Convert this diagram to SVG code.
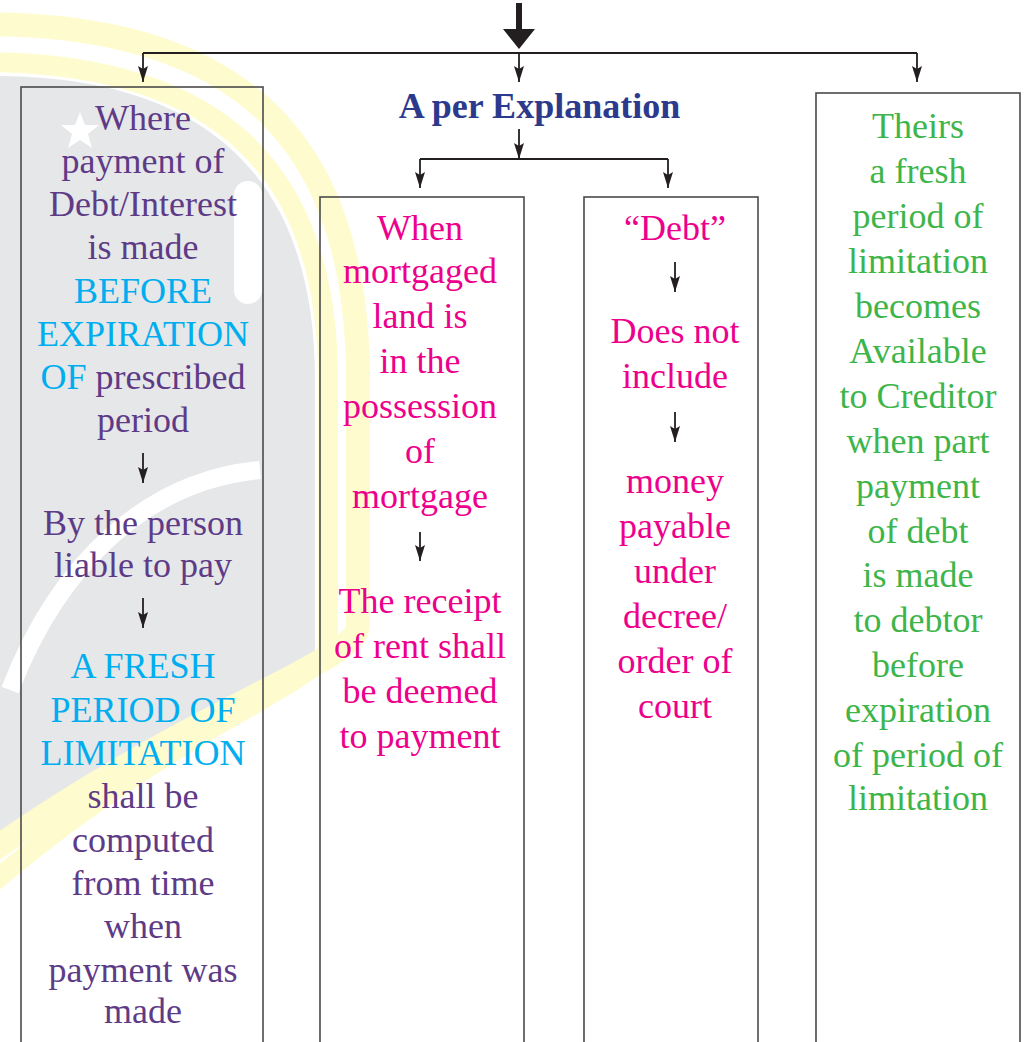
<svg xmlns="http://www.w3.org/2000/svg" width="1026" height="1042" viewBox="0 0 1026 1042">
<defs>
<style>
.t{font-family:"Liberation Serif","Times New Roman",serif;font-size:36px;text-anchor:middle}
.pu{fill:#5e3b87}
.cy{fill:#00aeef}
.mg{fill:#ec008c}
.gr{fill:#3db54a}
.ti{font-family:"Liberation Serif","Times New Roman",serif;font-size:36px;font-weight:bold;fill:#2b3a8d;text-anchor:middle}
.box{fill:none;stroke:#4a4a4a;stroke-width:1.6}
.cn{fill:none;stroke:#231f20;stroke-width:1.8}
</style>
<marker id="ah" markerUnits="userSpaceOnUse" viewBox="0 0 16 10" markerWidth="16" markerHeight="10" refX="16" refY="5" orient="auto">
<path d="M0,0 L16,5 L0,10 L3,5 Z" fill="#231f20"/>
</marker>
</defs>
<rect width="1026" height="1042" fill="#ffffff"/>
<g id="watermark">
<path d="M0,76 C210,78 315,180 315,380 L315,652 C250,690 120,745 0,835 Z" fill="#e6e7e8"/>
<path d="M-10,24 C250,26 358,150 358,380 L358,625 C358,662 200,705 -10,852" fill="none" stroke="#fefccf" stroke-width="24"/>
<path d="M-10,62 C220,65 328,170 328,380 L328,645 C328,682 180,722 -10,885" fill="none" stroke="#fefccf" stroke-width="20"/>
<polygon points="80,112 85,125 99,125 88,134 92,148 80,140 68,148 72,134 61,125 75,125" fill="#ffffff"/>
<path d="M248,195 L248,290" fill="none" stroke="#ffffff" stroke-width="28" stroke-linecap="round"/>
<path d="M10,690 C60,560 150,480 260,470" fill="none" stroke="#ffffff" stroke-width="18"/>
</g>
<g id="connectors">
<path d="M516,3 L522,3 L522,29 L535,29 L519,49 L503,29 L516,29 Z" fill="#231f20"/>
<path class="cn" d="M143,53 L917,53"/>
<path class="cn" d="M143,53 L143,82" marker-end="url(#ah)"/>
<path class="cn" d="M519,53 L519,82" marker-end="url(#ah)"/>
<path class="cn" d="M917,53 L917,82" marker-end="url(#ah)"/>
<path class="cn" d="M519,129 L519,159" marker-end="url(#ah)"/>
<path class="cn" d="M420,159 L668,159"/>
<path class="cn" d="M420,159 L420,188" marker-end="url(#ah)"/>
<path class="cn" d="M668,159 L668,188" marker-end="url(#ah)"/>
<path class="cn" d="M143,453 L143,483" marker-end="url(#ah)"/>
<path class="cn" d="M143,598 L143,628" marker-end="url(#ah)"/>
<path class="cn" d="M420,532 L420,561" marker-end="url(#ah)"/>
<path class="cn" d="M675,262 L675,292" marker-end="url(#ah)"/>
<path class="cn" d="M675,412 L675,442" marker-end="url(#ah)"/>
</g>
<g id="title">
<text class="ti" x="539.5" y="118">A per Explanation</text>
</g>
<g id="box1">
<rect class="box" x="21" y="87" width="242" height="970"/>
<text class="t pu" x="143" y="130">Where</text>
<text class="t pu" x="143" y="173">payment of</text>
<text class="t pu" x="143" y="216">Debt/Interest</text>
<text class="t pu" x="143" y="259">is made</text>
<text class="t cy" x="143" y="303">BEFORE</text>
<text class="t cy" x="143" y="346">EXPIRATION</text>
<text class="t" x="143" y="389"><tspan class="cy">OF</tspan><tspan class="pu"> prescribed</tspan></text>
<text class="t pu" x="143" y="432">period</text>
<text class="t pu" x="143" y="535">By the person</text>
<text class="t pu" x="143" y="577">liable to pay</text>
<text class="t cy" x="143" y="678">A FRESH</text>
<text class="t cy" x="143" y="722">PERIOD OF</text>
<text class="t cy" x="143" y="765">LIMITATION</text>
<text class="t pu" x="143" y="808">shall be</text>
<text class="t pu" x="143" y="852">computed</text>
<text class="t pu" x="143" y="895">from time</text>
<text class="t pu" x="143" y="938">when</text>
<text class="t pu" x="143" y="982">payment was</text>
<text class="t pu" x="143" y="1023">made</text>
</g>
<g id="box2">
<rect class="box" x="320" y="197" width="204" height="860"/>
<text class="t mg" x="420" y="240">When</text>
<text class="t mg" x="420" y="283">mortgaged</text>
<text class="t mg" x="420" y="328">land is</text>
<text class="t mg" x="420" y="373">in the</text>
<text class="t mg" x="420" y="418">possession</text>
<text class="t mg" x="420" y="463">of</text>
<text class="t mg" x="420" y="508">mortgage</text>
<text class="t mg" x="420" y="613">The receipt</text>
<text class="t mg" x="420" y="658">of rent shall</text>
<text class="t mg" x="420" y="703">be deemed</text>
<text class="t mg" x="420" y="748">to payment</text>
</g>
<g id="box3">
<rect class="box" x="584" y="197" width="174" height="860"/>
<text class="t mg" x="675" y="240">“Debt”</text>
<text class="t mg" x="675" y="343">Does not</text>
<text class="t mg" x="675" y="388">include</text>
<text class="t mg" x="675" y="493">money</text>
<text class="t mg" x="675" y="538">payable</text>
<text class="t mg" x="675" y="583">under</text>
<text class="t mg" x="675" y="628">decree/</text>
<text class="t mg" x="675" y="673">order of</text>
<text class="t mg" x="675" y="718">court</text>
</g>
<g id="box4">
<rect class="box" x="816" y="93" width="204" height="964"/>
<text class="t gr" x="918" y="138">Theirs</text>
<text class="t gr" x="918" y="183">a fresh</text>
<text class="t gr" x="918" y="228">period of</text>
<text class="t gr" x="918" y="273">limitation</text>
<text class="t gr" x="918" y="318">becomes</text>
<text class="t gr" x="918" y="363">Available</text>
<text class="t gr" x="918" y="408">to Creditor</text>
<text class="t gr" x="918" y="453">when part</text>
<text class="t gr" x="918" y="498">payment</text>
<text class="t gr" x="918" y="543">of debt</text>
<text class="t gr" x="918" y="587">is made</text>
<text class="t gr" x="918" y="632">to debtor</text>
<text class="t gr" x="918" y="677">before</text>
<text class="t gr" x="918" y="722">expiration</text>
<text class="t gr" x="918" y="767">of period of</text>
<text class="t gr" x="918" y="810">limitation</text>
</g>
</svg>
